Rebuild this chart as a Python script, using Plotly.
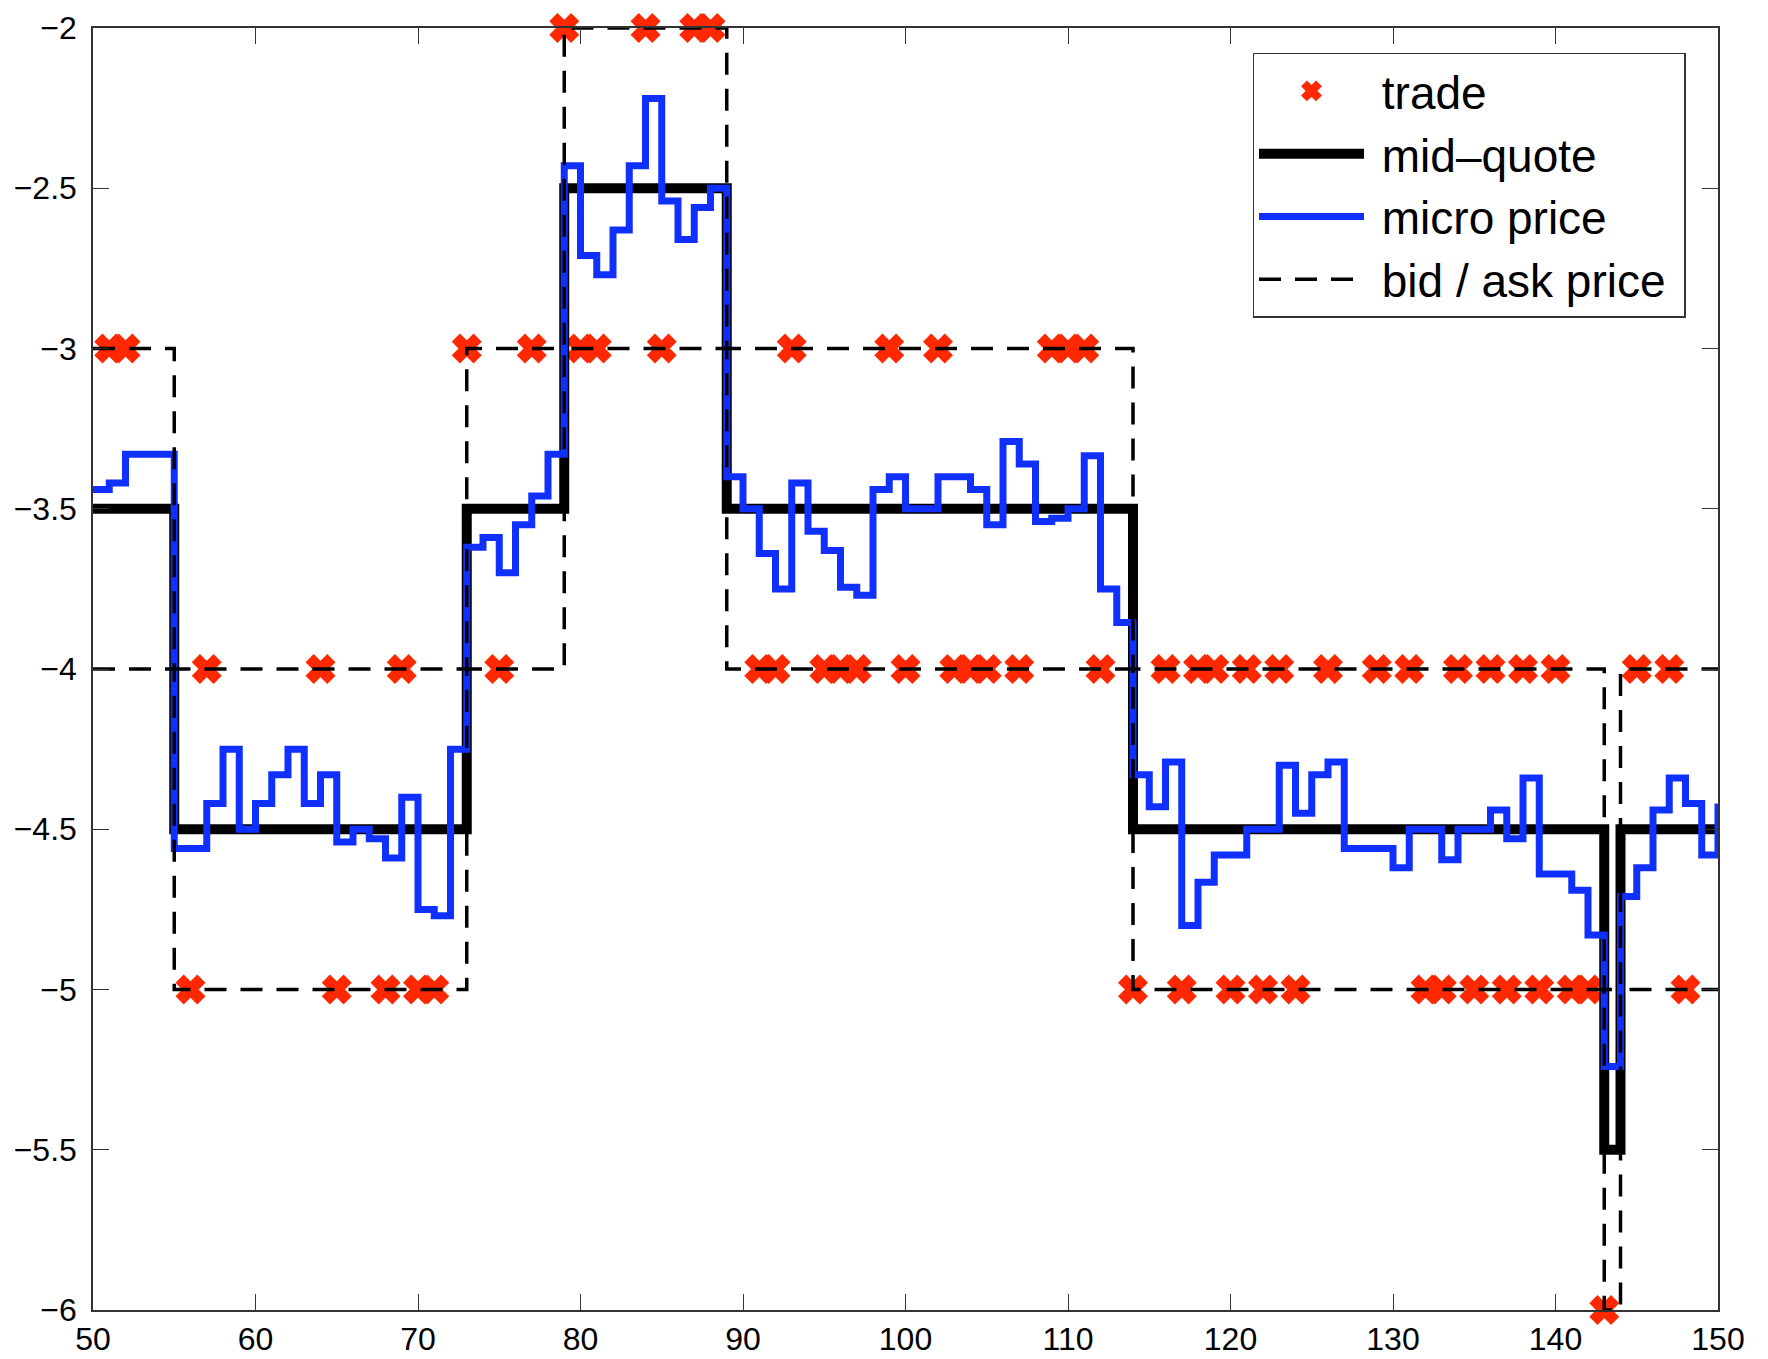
import plotly.graph_objects as go

# ---- data ----
micro_t = list(range(50, 151))
micro_price = [
    -3.44, -3.42, -3.33, -3.33, -3.33,                                   # 50-54
    -4.56, -4.56, -4.42, -4.25, -4.50, -4.42, -4.33, -4.25, -4.42, -4.33,  # 55-64
    -4.54, -4.50, -4.53, -4.59, -4.40, -4.75, -4.77, -4.25,                # 65-72
    -3.62, -3.59, -3.70, -3.55, -3.46, -3.33,                              # 73-78
    -2.43, -2.71, -2.77, -2.63, -2.43, -2.22, -2.54, -2.66, -2.56, -2.50,  # 79-88
    -3.40, -3.50, -3.64, -3.75, -3.42, -3.57, -3.63, -3.745, -3.77, -3.44, # 89-98
    -3.40, -3.50, -3.50, -3.40, -3.40, -3.44, -3.55, -3.29, -3.36, -3.54,  # 99-108
    -3.53, -3.50, -3.335, -3.75, -3.855,                                   # 109-113
    -4.33, -4.43, -4.29, -4.80, -4.665, -4.58, -4.58, -4.50, -4.50, -4.30, # 114-123
    -4.45, -4.33, -4.29, -4.56, -4.56, -4.56, -4.62, -4.50, -4.50, -4.595, # 124-133
    -4.50, -4.50, -4.44, -4.53, -4.34, -4.64, -4.64, -4.69, -4.83, -5.24,  # 134-143
    -4.71, -4.62, -4.44, -4.34, -4.42, -4.58, -4.42                        # 144-150
]

quote_t = [50, 55, 73, 79, 89, 114, 143, 144, 150]
mid_quote = [-3.5, -4.5, -3.5, -2.5, -3.5, -4.5, -5.5, -4.5, -4.5]
ask_price = [-3, -4, -3, -2, -3, -4, -5, -4, -4]
bid_price = [-4, -5, -4, -3, -4, -5, -6, -5, -5]

trade_t = [51, 52, 56, 57, 64, 65, 68, 69, 70, 71, 73, 75, 77, 79, 80, 81, 84, 85, 87, 88,
           91, 92, 93, 95, 96, 97, 99, 100, 102, 103, 104, 105, 107, 109, 110, 111, 112,
           114, 116, 117, 118, 119, 120, 121, 122, 123, 124, 126, 129, 131, 132, 133, 134,
           135, 136, 137, 138, 139, 140, 141, 142, 143, 145, 147, 148]
trade_price = [-3, -3, -5, -4, -4, -5, -5, -4, -5, -5, -3, -4, -3, -2, -3, -3, -2, -3, -2, -2,
               -4, -4, -3, -4, -4, -4, -3, -4, -3, -4, -4, -4, -4, -3, -3, -3, -4,
               -5, -4, -5, -4, -4, -5, -4, -5, -4, -5, -4, -4, -4, -5, -5, -4,
               -5, -4, -5, -4, -5, -4, -5, -5, -6, -4, -4, -5]

x_ticks = list(range(50, 151, 10))
y_ticks = [-6, -5.5, -5, -4.5, -4, -3.5, -3, -2.5, -2]

RED = "rgb(255,40,0)"
BLUE = "rgb(16,48,255)"
FONT = "Liberation Sans, Arial, Helvetica, sans-serif"
PAD = "\u00a0"

fig = go.Figure()
fig.add_trace(go.Scatter(x=trade_t, y=trade_price, mode="markers", name=PAD + "trade",
                         cliponaxis=False,
                         marker=dict(symbol="x", size=24, color=RED,
                                     line=dict(width=2, color=RED))))
fig.add_trace(go.Scatter(x=quote_t, y=mid_quote, mode="lines", name=PAD + "mid\u2013quote",
                         line=dict(shape="hv", color="black", width=10)))
fig.add_trace(go.Scatter(x=micro_t, y=micro_price, mode="lines", name=PAD + "micro price",
                         line=dict(shape="hv", color=BLUE, width=7)))
fig.add_trace(go.Scatter(x=quote_t, y=ask_price, mode="lines",
                         name=PAD + "bid / ask price" + PAD,
                         legendgroup="ba",
                         line=dict(shape="hv", color="black", width=3.5, dash="22px,14px")))
fig.add_trace(go.Scatter(x=quote_t, y=bid_price, mode="lines", name="bid / ask price",
                         legendgroup="ba", showlegend=False,
                         line=dict(shape="hv", color="black", width=3.5, dash="22px,14px")))

axis_common = dict(showline=True, linecolor="#333333", linewidth=1.5, mirror="ticks",
                   ticks="inside", ticklen=16, tickwidth=1.2, tickcolor="#333333",
                   showgrid=False, zeroline=False, automargin=False,
                   tickfont=dict(family=FONT, size=32, color="black"))

fig.update_layout(
    width=1768, height=1359,
    margin=dict(l=93, r=50, t=28, b=49),
    paper_bgcolor="white", plot_bgcolor="white",
    font=dict(family=FONT, color="black"),
    xaxis=dict(range=[50, 150], tickvals=x_ticks, **axis_common),
    yaxis=dict(range=[-6, -2], tickvals=y_ticks, ticklabelstandoff=8, **axis_common),
    legend=dict(x=0.98, y=0.9805, xanchor="right", yanchor="top",
                bgcolor="white", bordercolor="#333333", borderwidth=1.5,
                font=dict(family=FONT, size=46, color="black"),
                itemwidth=105, tracegroupgap=0),
    showlegend=True,
)

fig.write_html("out.html", config={"displayModeBar": False},
               post_script="document.body.style.margin='0';document.body.style.overflow='hidden';")
